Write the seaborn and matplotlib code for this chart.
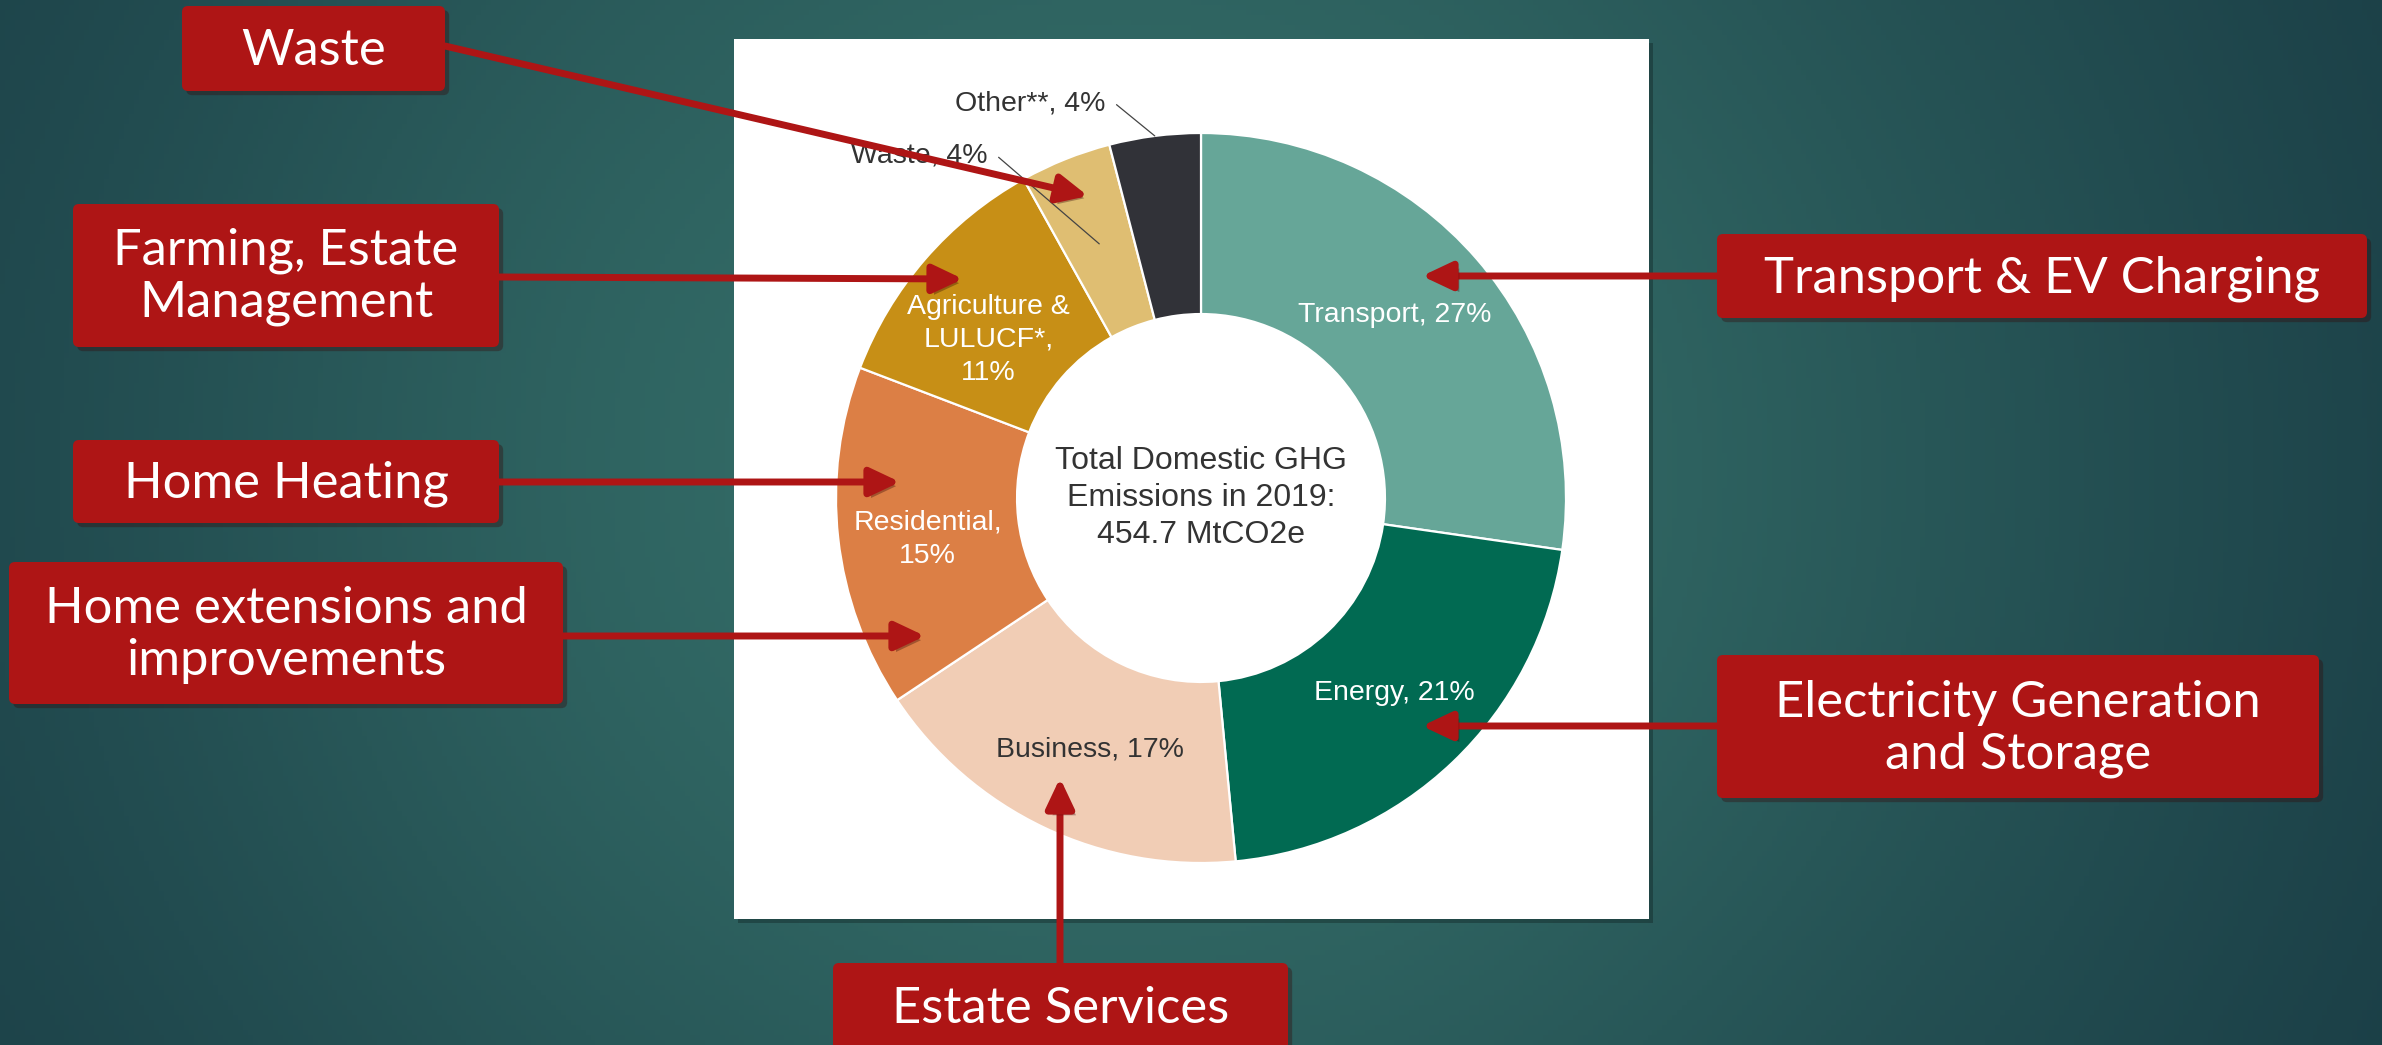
import numpy as np
import matplotlib
matplotlib.use("Agg")
import matplotlib.pyplot as plt
import matplotlib.patheffects as pe
from matplotlib.colors import to_rgb
from matplotlib.patches import FancyBboxPatch, FancyArrowPatch, Rectangle
import seaborn as sns

# UK total domestic GHG emissions 2019, share by sector (%)
sectors = ["Transport", "Energy", "Business", "Residential",
           "Agriculture &\nLULUCF*", "Waste", "Other**"]
shares = [27, 21, 17, 15, 11, 4, 4]
wrap_label = [False, False, False, True, True, False, False]
sector_colors = ["#66a698", "#016a52", "#f1cdb5", "#dc7f45",
                 "#c78f16", "#dfbe72", "#313238"]
label_colors = ["white", "white", "#333333", "white", "white", "#333333", "#333333"]
center_text = "Total Domestic GHG\nEmissions in 2019:\n454.7 MtCO2e"

# callout boxes pointing at the sectors
callouts = ["Waste", "Farming, Estate\nManagement", "Home Heating",
            "Home extensions and\nimprovements", "Transport & EV Charging",
            "Electricity Generation\nand Storage", "Estate Services"]

W, H = 2382, 1045
RED = "#ae1515"

# layout in pixels: box (x0, y0, x1, y1), arrow start, arrow tip
callout_boxes = [(182, 6, 445, 91), (73, 204, 499, 347), (73, 440, 499, 523),
                 (9, 562, 563, 704), (1717, 234, 2367, 318), (1717, 655, 2319, 798),
                 (833, 963, 1288, 1075)]
arrow_from = [(445, 46), (499, 277), (499, 482), (563, 636), (1717, 276),
              (1717, 726), (1060, 963)]
arrow_to = [(1088, 196), (963, 279), (900, 482), (925, 636), (1422, 276),
            (1422, 726), (1060, 778)]
text_y = [51, 277, 484, 635, 279, 729, 1009]
# small pixel nudges (dx, dy down) of the inside labels
label_nudge = [(-12, -5), (6, -2), (6, 6), (-3, 11), (-7, 20)]

sns.set_theme(style="white")
plt.rcParams["font.family"] = ["Liberation Sans", "DejaVu Sans"]

fig = plt.figure(figsize=(W / 100, H / 100), dpi=100)

# background gradient + white chart panel
ax_bg = fig.add_axes([0, 0, 1, 1], zorder=0)
gx, gy = np.meshgrid(np.linspace(0, 1, 480), np.linspace(0, 1, 210))
t = np.exp(-(((gx - 0.47) / 0.47) ** 2 + ((gy - 0.45) / 1.0) ** 2))
dark = np.array(to_rgb("#15343f"))
light = np.array(to_rgb("#356f69"))
ax_bg.imshow(dark + (light - dark) * t[..., None], extent=(0, W, H, 0), aspect="auto")
ax_bg.add_patch(Rectangle((738, 43), 915, 880, color="black", alpha=0.25, lw=0))
ax_bg.add_patch(Rectangle((734, 39), 915, 880, color="white", lw=0))
ax_bg.set_xlim(0, W)
ax_bg.set_ylim(H, 0)
ax_bg.axis("off")

# donut chart, outer radius 365 px centred at (1201, 498)
cx, cy, R = 1201, 498, 365
ax = fig.add_axes([(cx - R) / W, (H - cy - R) / H, 2 * R / W, 2 * R / H], zorder=2)
wedges, _ = ax.pie(shares, colors=sector_colors, startangle=90, counterclock=False,
                   wedgeprops=dict(width=0.496, edgecolor="white", linewidth=1.6))
ax.set_xlim(-1, 1)
ax.set_ylim(-1, 1)
ax.axis("off")

for i, w in enumerate(wedges):
    mid = np.deg2rad((w.theta1 + w.theta2) / 2)
    sep = ",\n" if wrap_label[i] else ", "
    label = f"{sectors[i]}{sep}{shares[i]}%"
    if i < 5:
        dx, dy = label_nudge[i]
        ax.text(0.745 * np.cos(mid) + dx / R, 0.745 * np.sin(mid) - dy / R, label,
                ha="center", va="center", fontsize=20.5, color=label_colors[i],
                linespacing=1.35)

# small slices labelled outside with leader lines
outside = {5: ((-0.586, 0.937), 0.75), 6: ((-0.263, 1.081), 1.0)}
for i, (txt_pos, r) in outside.items():
    w = wedges[i]
    mid = np.deg2rad((w.theta1 + w.theta2) / 2)
    ax.annotate(f"{sectors[i]}, {shares[i]}%", xy=(r * np.cos(mid), r * np.sin(mid)),
                xytext=txt_pos, ha="right", va="center", fontsize=20.5, color="#333333",
                annotation_clip=False,
                arrowprops=dict(arrowstyle="-", color="#444444", lw=0.9,
                                relpos=(1, 0.5), shrinkA=6, shrinkB=0,
                                connectionstyle="arc,angleA=0,armA=10,rad=0"))

ax.text(0, 0, center_text, ha="center", va="center", fontsize=23,
        color="#333333", linespacing=1.3)

# callout boxes and arrows on top
ax_fg = fig.add_axes([0, 0, 1, 1], zorder=3)
ax_fg.set_xlim(0, W)
ax_fg.set_ylim(H, 0)
ax_fg.axis("off")
ax_fg.patch.set_alpha(0)

shadow = [pe.withSimplePatchShadow(offset=(3, -3), alpha=0.35)]
for i, label in enumerate(callouts):
    x0, y0, x1, y1 = callout_boxes[i]
    box = FancyBboxPatch((x0, y0), x1 - x0, y1 - y0,
                         boxstyle="round,pad=0,rounding_size=6",
                         fc=RED, ec="none", path_effects=shadow)
    ax_fg.add_patch(box)
    ax_fg.text((x0 + x1) / 2, text_y[i], label, ha="center", va="center",
               color="white", fontsize=36.5, family=["Lato", "DejaVu Sans"],
               fontweight="normal", linespacing=1.15)
    arr = FancyArrowPatch(arrow_from[i], arrow_to[i],
                          arrowstyle="-|>,head_length=1.8,head_width=0.85",
                          mutation_scale=10, color=RED, lw=5,
                          shrinkA=0, shrinkB=0, path_effects=shadow)
    ax_fg.add_patch(arr)

fig.savefig("out.png", dpi=100)
